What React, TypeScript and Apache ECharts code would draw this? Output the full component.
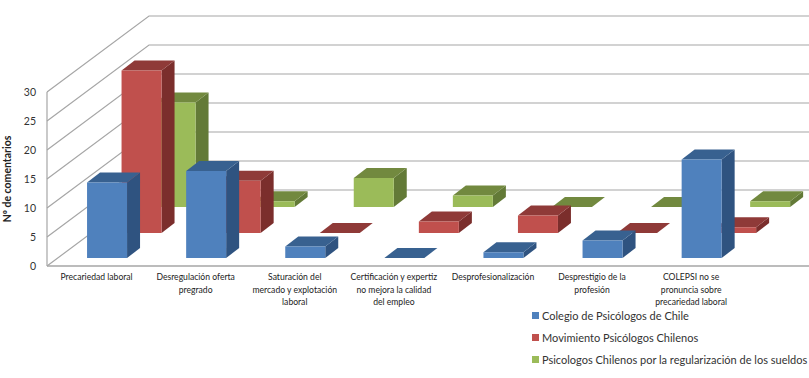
import React, { useEffect, useRef } from "react";
import * as echarts from "echarts";

const categories = [
  "Precariedad laboral",
  "Desregulación oferta\npregrado",
  "Saturación del\nmercado y explotación\nlaboral",
  "Certificación y expertiz\nno mejora la calidad\ndel empleo",
  "Desprofesionalización",
  "Desprestigio de la\nprofesión",
  "COLEPSI no se\npronuncia sobre\nprecariedad laboral",
];
const colegio = [13, 15, 2, 0, 1, 3, 17];
const movimiento = [28, 9, 0, 2, 3, 0, 1];
const psicologos = [18, 1, 5, 2, 0, 0, 1];
const yTicks = [0, 5, 10, 15, 20, 25, 30];
const seriesNames = [
  "Colegio de Psicólogos de Chile",
  "Movimiento Psicólogos Chilenos",
  "Psicologos Chilenos por la regularización de los sueldos",
];

const BAR_W = 40;
const SIDE_DX = 13;
const SIDE_DY = -10;
const WALL_DX = 102;
const WALL_DY = -76;

function barSeries(name: string, values: number[], row: number[], c: string[]) {
  return {
    type: "custom",
    name,
    silent: true,
    itemStyle: { color: c[0] },
    data: values.map((v, i) => [i, v]),
    encode: { x: 0, y: 1 },
    renderItem: (_: any, api: any) => {
      const top = api.coord([api.value(0), api.value(1)]);
      const base = api.coord([api.value(0), 0]);
      const x = top[0] - BAR_W / 2 + row[0];
      const xr = x + BAR_W;
      const yT = top[1] + row[1];
      const yB = base[1] + row[1];
      const children: any[] = [];
      children.push({
        type: "polygon",
        shape: { points: [[xr, yT], [xr + SIDE_DX, yT + SIDE_DY], [xr + SIDE_DX, yB + SIDE_DY], [xr, yB]] },
        style: { fill: c[2] },
      });
      children.push({
        type: "polygon",
        shape: { points: [[x, yT], [x + SIDE_DX, yT + SIDE_DY], [xr + SIDE_DX, yT + SIDE_DY], [xr, yT]] },
        style: { fill: c[1] },
      });
      if (yB - yT > 0) {
        children.push({
          type: "rect",
          shape: { x, y: yT, width: BAR_W, height: yB - yT },
          style: { fill: c[0] },
        });
      }
      return { type: "group", children };
    },
  };
}

const wallSeries = {
  type: "custom",
  silent: true,
  data: yTicks.map((v) => [0, v]),
  encode: { x: 0, y: 1 },
  renderItem: (params: any, api: any) => {
    const p = api.coord([0, api.value(1)]);
    const band = api.size([1, 0])[0];
    const x0 = p[0] - band / 2;
    const right = api.getWidth();
    const y = p[1];
    const stroke = "#a6a6a6";
    const children: any[] = [
      {
        type: "polyline",
        shape: { points: [[x0, y], [x0 + WALL_DX, y + WALL_DY], [right, y + WALL_DY]] },
        style: { fill: "none", stroke, lineWidth: 1.2 },
      },
    ];
    if (api.value(1) === 0) {
      children.push({
        type: "line",
        shape: { x1: x0, y1: y, x2: right, y2: y },
        style: { stroke, lineWidth: 1.6 },
      });
    }
    if (params.dataIndex === 0) {
      const t = api.coord([0, 30]);
      children.push({
        type: "line",
        shape: { x1: x0, y1: y, x2: x0, y2: t[1] },
        style: { stroke, lineWidth: 1.2 },
      });
    }
    return { type: "group", children };
  },
};

export default function App() {
  const ref = useRef<HTMLDivElement>(null);
  useEffect(() => {
    document.body.style.margin = "0";
    const chart = echarts.init(ref.current!, undefined, { renderer: "svg" });
    chart.setOption({
      animation: false,
      backgroundColor: "#ffffff",
      grid: { left: 47, top: 92, width: 693.7, height: 174, outerBoundsMode: "none" },
      legend: {
        orient: "vertical",
        left: 527,
        top: 305,
        itemGap: 11,
        itemWidth: 7,
        itemHeight: 7,
        icon: "rect",
        data: seriesNames,
        selectedMode: false,
        textStyle: { fontFamily: "Lato", fontSize: 11, color: "#333333", padding: [0, 0, 0, -2] },
      },
      xAxis: {
        type: "category",
        data: categories,
        axisLine: { show: false },
        axisTick: { show: false },
        axisLabel: {
          interval: 0,
          fontFamily: "Lato",
          fontSize: 8.6,
          lineHeight: 12.5,
          color: "#222222",
          margin: 5,
        },
      },
      yAxis: {
        type: "value",
        min: 0,
        max: 30,
        interval: 5,
        name: "Nº de comentarios",
        nameLocation: "middle",
        nameRotate: 90,
        nameGap: 20,
        nameTextStyle: { fontFamily: "Lato", fontSize: 10.5, fontWeight: "bold", color: "#222222" },
        axisLine: { show: false },
        axisTick: { show: false },
        splitLine: { show: false },
        axisLabel: { fontFamily: "Lato", fontSize: 10.5, color: "#333333", margin: 11 },
      },
      series: [
        wallSeries,
        barSeries(seriesNames[2], psicologos, [79, -59], ["#9bbb59", "#72893f", "#637a37"]),
        barSeries(seriesNames[1], movimiento, [45, -33], ["#c0504d", "#8f3a38", "#7b2e2c"]),
        barSeries(seriesNames[0], colegio, [10.5, -8], ["#4f81bd", "#386190", "#2f5380"]),
      ],
    });
    return () => chart.dispose();
  }, []);
  return <div ref={ref} style={{ width: 809, height: 378 }} />;
}
